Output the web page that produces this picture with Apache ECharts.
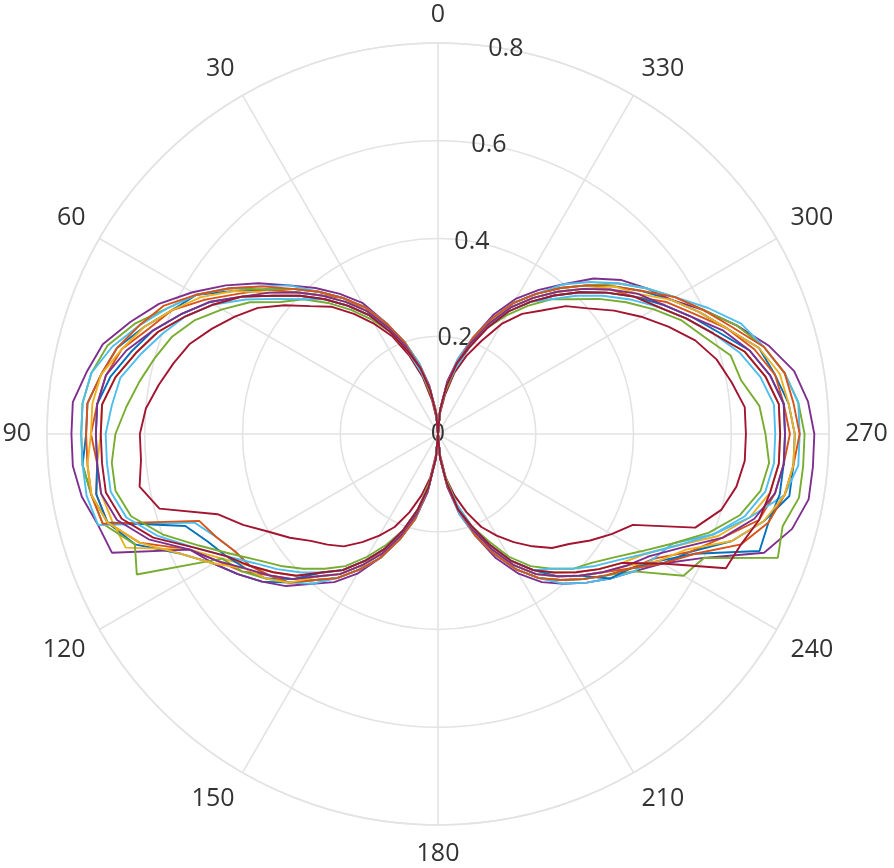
<!DOCTYPE html>
<html lang="en">
<head>
    <meta charset="UTF-8">
    <title>Polar pattern</title>
    <script src="https://cdn.jsdelivr.net/npm/echarts@6/dist/echarts.min.js"></script>
    <style>
        html, body { margin: 0; padding: 0; background: #fff; }
        #chart { width: 894px; height: 868px; }
    </style>
</head>
<body>
<div id="chart"></div>
<script>
    // angle ticks of the measurement, every 5 degrees
    var angles = [];
    for (var a = 0; a <= 360; a += 5) angles.push(a);

    var colors = ['#0072BD', '#D95319', '#EDB120', '#7E2F8E', '#77AC30', '#4DBEEE', '#A2142F'];

    // radius per angle, rows of 45 degrees (0-40, 45-85, ... 315-355, 360)
    var run1 = [
        0, 0.04, 0.09, 0.14, 0.19, 0.24, 0.30, 0.34, 0.38,
        0.42, 0.46, 0.51, 0.57, 0.60, 0.64, 0.68, 0.70, 0.72,
        0.72, 0.73, 0.72, 0.70, 0.66, 0.58, 0.53, 0.50, 0.47,
        0.43, 0.39, 0.36, 0.32, 0.28, 0.22, 0.17, 0.11, 0.05,
        0, 0.05, 0.10, 0.16, 0.21, 0.27, 0.32, 0.36, 0.39,
        0.42, 0.45, 0.48, 0.53, 0.57, 0.64, 0.69, 0.73, 0.73,
        0.73, 0.72, 0.70, 0.68, 0.63, 0.59, 0.55, 0.51, 0.47,
        0.43, 0.39, 0.35, 0.31, 0.26, 0.20, 0.15, 0.10, 0.05,
        0
    ];
    var run2 = [
        0, 0.05, 0.09, 0.14, 0.20, 0.24, 0.29, 0.34, 0.37,
        0.41, 0.46, 0.50, 0.55, 0.60, 0.63, 0.67, 0.69, 0.70,
        0.71, 0.70, 0.71, 0.70, 0.65, 0.56, 0.52, 0.49, 0.45,
        0.42, 0.38, 0.35, 0.31, 0.26, 0.22, 0.16, 0.11, 0.05,
        0, 0.05, 0.11, 0.16, 0.21, 0.26, 0.31, 0.35, 0.38,
        0.41, 0.44, 0.48, 0.51, 0.57, 0.62, 0.68, 0.70, 0.71,
        0.72, 0.71, 0.70, 0.67, 0.63, 0.58, 0.54, 0.49, 0.46,
        0.42, 0.38, 0.34, 0.30, 0.25, 0.20, 0.15, 0.10, 0.05,
        0
    ];
    var run3 = [
        0, 0.04, 0.09, 0.14, 0.18, 0.23, 0.28, 0.32, 0.36,
        0.40, 0.44, 0.49, 0.53, 0.57, 0.61, 0.64, 0.67, 0.69,
        0.69, 0.70, 0.70, 0.69, 0.68, 0.56, 0.51, 0.47, 0.44,
        0.41, 0.37, 0.34, 0.30, 0.26, 0.21, 0.16, 0.11, 0.05,
        0, 0.05, 0.10, 0.16, 0.20, 0.25, 0.30, 0.34, 0.37,
        0.40, 0.43, 0.46, 0.49, 0.54, 0.61, 0.66, 0.69, 0.70,
        0.70, 0.70, 0.68, 0.65, 0.60, 0.56, 0.52, 0.49, 0.45,
        0.41, 0.37, 0.33, 0.29, 0.24, 0.19, 0.15, 0.10, 0.05,
        0
    ];
    var run4 = [
        0, 0.04, 0.10, 0.15, 0.20, 0.25, 0.31, 0.35, 0.39,
        0.43, 0.48, 0.53, 0.58, 0.63, 0.67, 0.71, 0.73, 0.75,
        0.75, 0.75, 0.74, 0.72, 0.71, 0.56, 0.53, 0.50, 0.47,
        0.44, 0.40, 0.37, 0.33, 0.28, 0.23, 0.18, 0.12, 0.05,
        0, 0.05, 0.11, 0.17, 0.22, 0.28, 0.33, 0.37, 0.40,
        0.43, 0.46, 0.49, 0.53, 0.60, 0.71, 0.75, 0.77, 0.77,
        0.77, 0.76, 0.74, 0.70, 0.65, 0.60, 0.55, 0.52, 0.49,
        0.45, 0.40, 0.36, 0.32, 0.27, 0.21, 0.16, 0.11, 0.05,
        0
    ];
    var run5 = [
        0, 0.04, 0.09, 0.15, 0.20, 0.25, 0.30, 0.34, 0.38,
        0.42, 0.46, 0.52, 0.57, 0.61, 0.66, 0.70, 0.72, 0.73,
        0.73, 0.73, 0.72, 0.71, 0.66, 0.68, 0.51, 0.49, 0.46,
        0.43, 0.39, 0.36, 0.32, 0.28, 0.23, 0.18, 0.11, 0.05,
        0, 0.05, 0.10, 0.16, 0.22, 0.27, 0.32, 0.36, 0.39,
        0.42, 0.45, 0.49, 0.58, 0.60, 0.74, 0.73, 0.75, 0.75,
        0.75, 0.74, 0.72, 0.69, 0.65, 0.60, 0.56, 0.52, 0.48,
        0.43, 0.39, 0.35, 0.31, 0.26, 0.21, 0.15, 0.10, 0.05,
        0
    ];
    var run6 = [
        0, 0.04, 0.09, 0.15, 0.20, 0.25, 0.30, 0.34, 0.38,
        0.43, 0.47, 0.52, 0.57, 0.61, 0.65, 0.69, 0.72, 0.73,
        0.73, 0.73, 0.73, 0.72, 0.53, 0.50, 0.48, 0.47, 0.45,
        0.43, 0.40, 0.36, 0.32, 0.28, 0.23, 0.18, 0.11, 0.05,
        0, 0.05, 0.10, 0.17, 0.22, 0.27, 0.32, 0.36, 0.40,
        0.43, 0.46, 0.49, 0.51, 0.53, 0.60, 0.66, 0.72, 0.74,
        0.74, 0.74, 0.72, 0.69, 0.66, 0.61, 0.56, 0.52, 0.48,
        0.44, 0.40, 0.35, 0.31, 0.26, 0.21, 0.16, 0.10, 0.05,
        0
    ];
    var run7 = [
        0, 0.03, 0.07, 0.12, 0.17, 0.22, 0.26, 0.30, 0.34,
        0.37, 0.41, 0.45, 0.48, 0.51, 0.54, 0.56, 0.58, 0.60,
        0.61, 0.61, 0.62, 0.59, 0.48, 0.44, 0.40, 0.37, 0.34,
        0.32, 0.30, 0.27, 0.24, 0.21, 0.17, 0.13, 0.09, 0.04,
        0, 0.04, 0.09, 0.13, 0.17, 0.21, 0.24, 0.27, 0.30,
        0.33, 0.35, 0.38, 0.41, 0.44, 0.56, 0.60, 0.62, 0.63,
        0.63, 0.63, 0.61, 0.59, 0.56, 0.52, 0.48, 0.44, 0.40,
        0.37, 0.33, 0.30, 0.26, 0.21, 0.17, 0.13, 0.08, 0.04,
        0
    ];
    var run8 = [
        0, 0.04, 0.09, 0.14, 0.19, 0.24, 0.28, 0.32, 0.36,
        0.40, 0.44, 0.49, 0.54, 0.58, 0.62, 0.65, 0.68, 0.70,
        0.70, 0.70, 0.71, 0.70, 0.55, 0.52, 0.50, 0.48, 0.46,
        0.42, 0.37, 0.34, 0.30, 0.26, 0.22, 0.17, 0.11, 0.05,
        0, 0.05, 0.10, 0.16, 0.21, 0.25, 0.30, 0.34, 0.38,
        0.41, 0.46, 0.48, 0.52, 0.58, 0.70, 0.70, 0.71, 0.71,
        0.71, 0.71, 0.69, 0.66, 0.61, 0.57, 0.53, 0.49, 0.45,
        0.41, 0.37, 0.33, 0.29, 0.25, 0.20, 0.15, 0.10, 0.05,
        0
    ];
    var run9 = [
        0, 0.04, 0.09, 0.14, 0.20, 0.25, 0.30, 0.34, 0.38,
        0.42, 0.47, 0.52, 0.57, 0.62, 0.65, 0.68, 0.70, 0.72,
        0.72, 0.72, 0.72, 0.71, 0.52, 0.50, 0.48, 0.47, 0.45,
        0.43, 0.39, 0.36, 0.32, 0.28, 0.23, 0.18, 0.11, 0.05,
        0, 0.05, 0.10, 0.16, 0.22, 0.27, 0.32, 0.36, 0.39,
        0.42, 0.45, 0.48, 0.53, 0.58, 0.66, 0.70, 0.72, 0.73,
        0.74, 0.73, 0.72, 0.69, 0.64, 0.60, 0.56, 0.51, 0.47,
        0.43, 0.39, 0.35, 0.31, 0.26, 0.21, 0.15, 0.10, 0.05,
        0
    ];
    var run10 = [
        0, 0.04, 0.09, 0.14, 0.19, 0.24, 0.29, 0.33, 0.37,
        0.41, 0.45, 0.51, 0.56, 0.60, 0.64, 0.67, 0.70, 0.71,
        0.71, 0.72, 0.72, 0.70, 0.65, 0.58, 0.53, 0.48, 0.46,
        0.43, 0.38, 0.35, 0.31, 0.27, 0.22, 0.17, 0.11, 0.05,
        0, 0.05, 0.10, 0.16, 0.21, 0.26, 0.31, 0.35, 0.38,
        0.41, 0.44, 0.47, 0.52, 0.56, 0.64, 0.69, 0.72, 0.73,
        0.73, 0.72, 0.71, 0.68, 0.63, 0.59, 0.55, 0.50, 0.47,
        0.42, 0.38, 0.34, 0.30, 0.25, 0.20, 0.15, 0.10, 0.05,
        0
    ];
    var run11 = [
        0, 0.04, 0.09, 0.14, 0.19, 0.24, 0.29, 0.33, 0.37,
        0.41, 0.45, 0.49, 0.54, 0.58, 0.62, 0.66, 0.69, 0.70,
        0.70, 0.70, 0.70, 0.68, 0.63, 0.56, 0.52, 0.48, 0.45,
        0.42, 0.38, 0.35, 0.31, 0.27, 0.22, 0.17, 0.11, 0.05,
        0, 0.05, 0.10, 0.16, 0.21, 0.26, 0.31, 0.35, 0.38,
        0.41, 0.44, 0.47, 0.50, 0.55, 0.62, 0.67, 0.70, 0.71,
        0.71, 0.71, 0.69, 0.66, 0.62, 0.57, 0.53, 0.50, 0.46,
        0.42, 0.38, 0.34, 0.30, 0.25, 0.20, 0.15, 0.10, 0.05,
        0
    ];
    var run12 = [
        0, 0.04, 0.08, 0.13, 0.18, 0.23, 0.27, 0.31, 0.35,
        0.39, 0.42, 0.47, 0.51, 0.55, 0.58, 0.60, 0.62, 0.64,
        0.66, 0.67, 0.67, 0.65, 0.60, 0.54, 0.49, 0.45, 0.42,
        0.39, 0.36, 0.33, 0.29, 0.25, 0.21, 0.16, 0.10, 0.05,
        0, 0.05, 0.09, 0.15, 0.20, 0.24, 0.29, 0.33, 0.36,
        0.39, 0.41, 0.44, 0.48, 0.53, 0.59, 0.64, 0.67, 0.68,
        0.67, 0.66, 0.63, 0.62, 0.58, 0.55, 0.51, 0.47, 0.43,
        0.39, 0.36, 0.32, 0.28, 0.24, 0.19, 0.14, 0.09, 0.05,
        0
    ];
    var run13 = [
        0, 0.04, 0.09, 0.13, 0.18, 0.23, 0.28, 0.32, 0.36,
        0.39, 0.43, 0.48, 0.53, 0.57, 0.60, 0.63, 0.66, 0.67,
        0.68, 0.68, 0.68, 0.66, 0.61, 0.55, 0.50, 0.46, 0.43,
        0.40, 0.37, 0.34, 0.30, 0.26, 0.21, 0.16, 0.11, 0.05,
        0, 0.05, 0.10, 0.15, 0.20, 0.25, 0.30, 0.34, 0.36,
        0.39, 0.42, 0.45, 0.49, 0.54, 0.60, 0.65, 0.68, 0.69,
        0.69, 0.69, 0.67, 0.64, 0.60, 0.56, 0.52, 0.48, 0.44,
        0.40, 0.36, 0.33, 0.29, 0.24, 0.19, 0.14, 0.10, 0.05,
        0
    ];
    var run14 = [
        0, 0.04, 0.09, 0.14, 0.18, 0.23, 0.28, 0.32, 0.36,
        0.40, 0.44, 0.49, 0.53, 0.57, 0.61, 0.64, 0.67, 0.69,
        0.69, 0.69, 0.69, 0.67, 0.62, 0.55, 0.50, 0.47, 0.44,
        0.41, 0.37, 0.34, 0.30, 0.26, 0.21, 0.16, 0.11, 0.05,
        0, 0.05, 0.10, 0.16, 0.20, 0.25, 0.30, 0.34, 0.37,
        0.40, 0.43, 0.46, 0.53, 0.65, 0.66, 0.68, 0.69, 0.70,
        0.70, 0.70, 0.68, 0.65, 0.60, 0.56, 0.52, 0.49, 0.45,
        0.41, 0.37, 0.33, 0.29, 0.24, 0.19, 0.15, 0.10, 0.05,
        0
    ];

    var runs = [run1, run2, run3, run4, run5, run6, run7,
                run8, run9, run10, run11, run12, run13, run14];

    var gridColor = '#e3e3e3';
    var textColor = '#333333';
    var font = 'Open Sans';

    var myChart = echarts.init(document.getElementById('chart'));

    var series = [];
    for (var i = 0; i < runs.length; i++) {
        var pts = [];
        for (var j = 0; j < angles.length; j++) {
            pts.push([runs[i][j], angles[j]]);
        }
        series.push({
            type: 'line',
            coordinateSystem: 'polar',
            polarIndex: 0,
            symbol: 'none',
            lineStyle: { width: 1.9, color: colors[i % colors.length] },
            data: pts
        });
    }

    var option = {
        backgroundColor: '#ffffff',
        animation: false,
        polar: [
            { center: [438, 434], radius: 391 },
            { center: [438, 434], radius: 391 }
        ],
        angleAxis: [{
            polarIndex: 0,
            type: 'value',
            min: 0,
            max: 360,
            interval: 30,
            startAngle: 90,
            clockwise: false,
            axisLine: { show: true, lineStyle: { color: gridColor, width: 1.6 } },
            axisTick: { show: false },
            axisLabel: {
                margin: 16,
                fontSize: 25,
                fontFamily: font,
                color: textColor,
                formatter: function (v) { return v === 360 ? '' : String(v); }
            },
            splitLine: { show: true, lineStyle: { color: gridColor, width: 1.6 } }
        }, {
            // only used to tilt the radius labels a little off the 0 line
            polarIndex: 1,
            type: 'value',
            min: 0,
            max: 360,
            startAngle: 80,
            clockwise: false,
            show: false
        }],
        radiusAxis: [{
            polarIndex: 0,
            type: 'value',
            min: 0,
            max: 0.8,
            interval: 0.2,
            axisLine: { show: false },
            axisTick: { show: false },
            axisLabel: { show: false },
            splitLine: { show: true, lineStyle: { color: gridColor, width: 1.6 } }
        }, {
            polarIndex: 1,
            type: 'value',
            min: 0,
            max: 0.8,
            interval: 0.2,
            axisLine: { show: false },
            axisTick: { show: false },
            splitLine: { show: false },
            axisLabel: {
                margin: 0,
                align: 'center',
                verticalAlign: 'middle',
                fontSize: 25,
                fontFamily: font,
                color: textColor
            }
        }],
        series: series
    };

    myChart.setOption(option);
</script>
</body>
</html>
